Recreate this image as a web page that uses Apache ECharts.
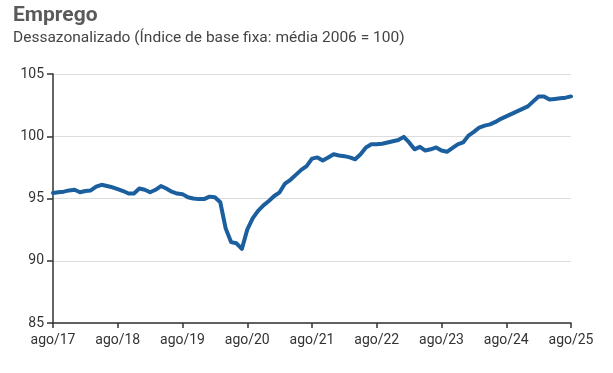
<!DOCTYPE html>
<html>
<head>
<meta charset="utf-8">
<script src="https://cdn.jsdelivr.net/npm/echarts@6/dist/echarts.min.js"></script>
<style>
html,body{margin:0;padding:0;background:#fff;}
#chart{width:613px;height:373px;}
</style>
</head>
<body>
<div id="chart"></div>
<script>
// Data
const titleText = "Emprego";
const subtitleText = "Dessazonalizado (Índice de base fixa: média 2006 = 100)";
const monthNames = ["jan","fev","mar","abr","mai","jun","jul","ago","set","out","nov","dez"];
const startMonthIndex = 7; // ago
const startYear = 2017;
const monthCount = 97;
const employmentIndex = [
  95.45, 95.5, 95.55, 95.65, 95.7, 95.5, 95.6, 95.65, 95.95, 96.1, 96.0, 95.9,
  95.75, 95.6, 95.4, 95.4, 95.8, 95.7, 95.5, 95.7, 96.0, 95.8, 95.55, 95.4,
  95.35, 95.1, 95.0, 94.95, 94.95, 95.15, 95.1, 94.7, 92.6, 91.5, 91.4, 90.95,
  92.5, 93.4, 94.0, 94.45, 94.8, 95.2, 95.5, 96.2, 96.5, 96.9, 97.3, 97.6,
  98.2, 98.3, 98.05, 98.3, 98.55, 98.45, 98.4, 98.3, 98.15, 98.55, 99.1, 99.35,
  99.35, 99.4, 99.5, 99.6, 99.7, 99.95, 99.5, 98.95, 99.15, 98.85, 98.95, 99.1,
  98.85, 98.75, 99.05, 99.35, 99.5, 100.05, 100.35, 100.7, 100.85, 100.95, 101.15, 101.4,
  101.6, 101.8, 102.0, 102.2, 102.4, 102.8, 103.2, 103.2, 102.95, 103.0, 103.05, 103.1,
  103.2
];
const yTicks = [85, 90, 95, 100, 105];

const categories = [];
for (let i = 0; i < monthCount; i++) {
  const m = (startMonthIndex + i) % 12;
  const y = startYear + Math.floor((startMonthIndex + i) / 12);
  categories.push(monthNames[m] + "/" + String(y).slice(2));
}

const chart = echarts.init(document.getElementById('chart'), null, {renderer: 'canvas'});
const FONT = 'Roboto';
chart.setOption({
  animation: false,
  backgroundColor: '#ffffff',
  title: {
    text: titleText,
    subtext: subtitleText,
    left: 8,
    top: 0,
    itemGap: 4,
    textStyle: {fontFamily: FONT, fontSize: 21, fontWeight: 'bold', color: '#5a5a5a'},
    subtextStyle: {fontFamily: FONT, fontSize: 15.5, color: '#444444'}
  },
  grid: {left: 53, right: 42, top: 74, bottom: 50, containLabel: false},
  xAxis: {
    type: 'category',
    data: categories,
    boundaryGap: false,
    axisLine: {lineStyle: {color: '#333333', width: 1.5}},
    axisTick: {show: true, interval: 11, length: 5, lineStyle: {color: '#333333', width: 1.5}},
    axisLabel: {interval: 11, fontFamily: FONT, fontSize: 14, color: '#333333', margin: 10},
    splitLine: {show: false}
  },
  yAxis: {
    type: 'value',
    min: yTicks[0],
    max: yTicks[yTicks.length - 1],
    interval: 5,
    axisLine: {show: true, lineStyle: {color: '#333333', width: 1.5}},
    axisTick: {show: true, length: 6, lineStyle: {color: '#333333', width: 1.5}},
    axisLabel: {fontFamily: FONT, fontSize: 14, color: '#333333', margin: 9},
    splitLine: {show: true, lineStyle: {color: '#dddddd', width: 1}}
  },
  series: [{
    type: 'line',
    data: employmentIndex,
    showSymbol: false,
    smooth: false,
    lineStyle: {color: '#1c5f9f', width: 4, join: 'round', cap: 'round'},
    itemStyle: {color: '#1c5f9f'}
  }]
});
</script>
</body>
</html>
